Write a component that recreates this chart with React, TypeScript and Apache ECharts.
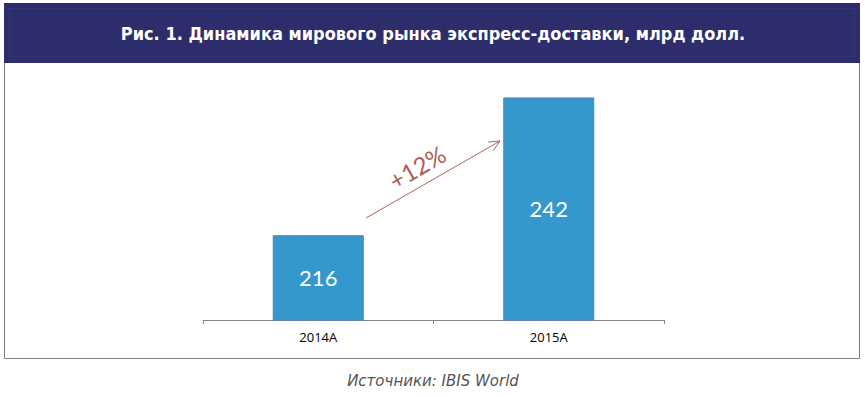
import React, { useEffect, useRef } from "react";
import * as echarts from "echarts";

const categories = ["2014A", "2015A"];
const values = [216, 242];
const titleText = "Рис. 1. Динамика мирового рынка экспресс-доставки, млрд долл.";
const sourceText = "Источники: IBIS World";
const growthLabel = "+12%";

export default function App() {
  const ref = useRef<HTMLDivElement>(null);
  useEffect(() => {
    if (!ref.current) return;
    const chart = echarts.init(ref.current, undefined, { renderer: "svg" });
    const ax1 = 366, ay1 = 218, ax2 = 500, ay2 = 141;
    const ang = Math.atan2(ay1 - ay2, ax1 - ax2);
    const wl = 12, wa = (25 * Math.PI) / 180;
    const w1 = [ax2 + wl * Math.cos(ang + wa), ay2 + wl * Math.sin(ang + wa)];
    const w2 = [ax2 + wl * Math.cos(ang - wa), ay2 + wl * Math.sin(ang - wa)];
    chart.setOption({
      animation: false,
      backgroundColor: "#ffffff",
      grid: { left: 203, right: 201, top: 55, bottom: 77 },
      xAxis: {
        type: "category",
        data: categories,
        axisLine: { lineStyle: { color: "#868686", width: 1 } },
        axisTick: { show: true, length: 4, lineStyle: { color: "#868686" } },
        axisLabel: { color: "#000", fontSize: 13, fontFamily: "Open Sans", margin: 10 },
      },
      yAxis: { type: "value", min: 200, max: 250, show: false, splitLine: { show: false } },
      series: [
        {
          type: "bar",
          data: values,
          barWidth: 91,
          z: 5,
          itemStyle: { color: "#3598cd", borderColor: "#4f7fc0", borderWidth: 1 },
          label: {
            show: true,
            position: "inside",
            color: "#ffffff",
            fontSize: 22,
            fontFamily: "Lato",
          },
        },
      ],
      graphic: [
        {
          type: "rect",
          z: -10,
          shape: { x: 4.5, y: 3.5, width: 855, height: 355 },
          style: { fill: "#ffffff", stroke: "#808080", lineWidth: 1 },
        },
        {
          type: "rect",
          z: -9,
          shape: { x: 4, y: 3, width: 856, height: 60 },
          style: { fill: "#2e2d6b" },
        },
        {
          type: "rect",
          z: -8,
          shape: { x: 9.5, y: 8.5, width: 845, height: 48 },
          style: { fill: "none", stroke: "#3a3c86", lineWidth: 1, lineDash: [2, 2] },
        },
        {
          type: "text",
          z: 10,
          x: 433,
          y: 33,
          style: {
            text: titleText,
            fill: "#ffffff",
            font: "bold 18px 'DejaVu Sans Condensed', 'DejaVu Sans', sans-serif",
            align: "center",
            verticalAlign: "middle",
          },
        },
        {
          type: "line",
          z: 10,
          shape: { x1: ax1, y1: ay1, x2: ax2, y2: ay2 },
          style: { stroke: "#b3625c", lineWidth: 1 },
        },
        {
          type: "polyline",
          z: 10,
          shape: { points: [w1, [ax2, ay2], w2] },
          style: { stroke: "#b3625c", lineWidth: 1, fill: "none" },
        },
        {
          type: "text",
          z: 10,
          x: 417,
          y: 167,
          rotation: Math.PI / 6,
          style: {
            text: growthLabel,
            fill: "#b05a55",
            font: "24px Lato",
            align: "center",
            verticalAlign: "middle",
          },
        },
        {
          type: "text",
          z: 10,
          x: 433,
          y: 381,
          style: {
            text: sourceText,
            fill: "#555555",
            font: "italic 15px 'DejaVu Sans', sans-serif",
            align: "center",
            verticalAlign: "middle",
          },
        },
      ],
    });
    return () => chart.dispose();
  }, []);
  return (
    <div
      ref={ref}
      style={{ position: "fixed", left: 0, top: 0, width: 865, height: 397 }}
    />
  );
}
